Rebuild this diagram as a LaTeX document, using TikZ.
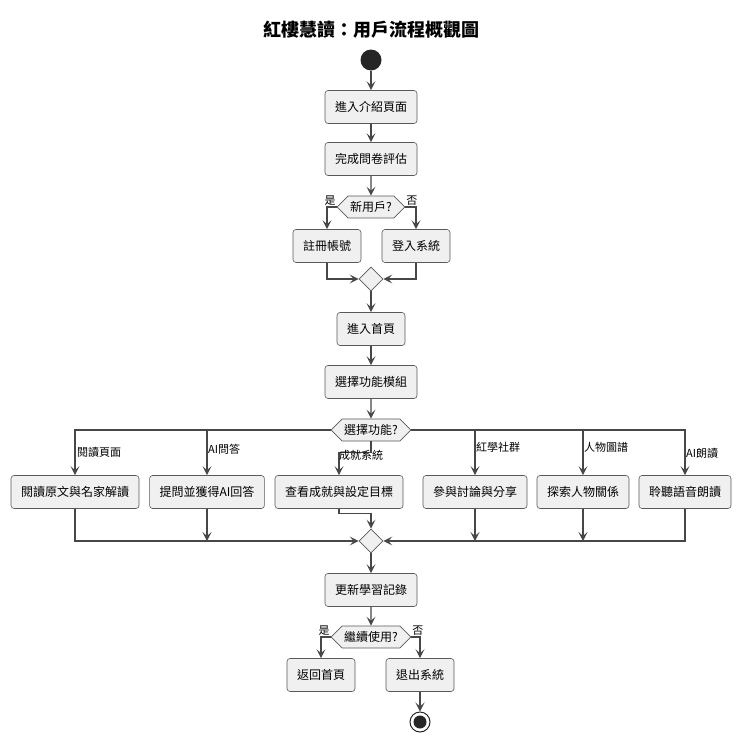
\documentclass[tikz,border=0pt]{standalone}
\usepackage{fontspec}
\setmainfont{Noto Sans CJK TC}
\usetikzlibrary{arrows.meta,shapes.geometric,shapes.symbols}

\begin{document}
\begin{tikzpicture}[x=1pt,y=-1pt,
    box/.style={draw=black!65, fill=black!6, rounded corners=3pt, line width=0.6pt,
        minimum height=33pt, inner xsep=10pt, font=\fontsize{12}{14}\selectfont},
    decide/.style={signal, signal to=west and east, draw=black!65, fill=black!6, line width=0.6pt,
        minimum height=22pt, inner xsep=2pt, inner ysep=0pt, font=\fontsize{12}{14}\selectfont},
    merge/.style={diamond, draw=black!65, fill=black!6, line width=0.6pt, minimum size=24pt, inner sep=0pt},
    lbl/.style={font=\fontsize{11}{13}\selectfont, inner sep=1pt},
    arr/.style={draw=black!72, line width=1.1pt, -{Stealth[length=9pt,width=9pt,inset=4pt]}}
]
    \useasboundingbox (0,0) rectangle (742,745);

    \node[font=\fontsize{18}{21}\selectfont\bfseries] (title) at (371,30) {紅樓慧讀：用戶流程概觀圖};

    \node[circle, fill=black!85, minimum size=21pt, inner sep=0pt] (start) at (371,60) {};
    \node[box] (intro) at (371,107) {進入介紹頁面};
    \node[box] (survey) at (371,159) {完成問卷評估};
    \node[decide] (newq) at (371,207) {新用戶?};
    \node[box] (reg) at (327,246) {註冊帳號};
    \node[box] (login) at (416,246) {登入系統};
    \node[merge] (m1) at (371,279) {};
    \node[box] (home) at (371,329) {進入首頁};
    \node[box] (select) at (371,382) {選擇功能模組};
    \node[decide] (funcq) at (371,430) {選擇功能?};

    % branches
    \node[box] (read) at (75,492) {閱讀原文與名家解讀};
    \node[box] (qa) at (207,492) {提問並獲得AI回答};
    \node[box] (goal) at (339,492) {查看成就與設定目標};
    \node[box] (social) at (475,492) {參與討論與分享};
    \node[box] (chars) at (583,492) {探索人物關係};
    \node[box] (listen) at (685,492) {聆聽語音朗讀};

    \node[merge] (m2) at (371,541) {};
    \node[box] (update) at (371,590) {更新學習記錄};
    \node[decide] (contq) at (371,637) {繼續使用?};
    \node[box] (back) at (321,675) {返回首頁};
    \node[box] (quit) at (420,675) {退出系統};
    \node[circle, draw=black!85, line width=1pt, minimum size=20pt, inner sep=0pt] (stop) at (420,722) {};
    \fill[black!85] (stop) circle (6.5pt);

    \draw[arr] (start) -- (intro);
    \draw[arr] (intro) -- (survey);
    \draw[arr] (survey) -- (newq);
    \draw[arr] (newq.west) -| (reg);
    \draw[arr] (newq.east) -| (login);
    \node[lbl, anchor=south east] (yes1) at (newq.west) {是};
    \node[lbl, anchor=south west] (no1) at (newq.east) {否};
    \draw[arr] (reg) |- (m1);
    \draw[arr] (login) |- (m1);
    \draw[arr] (m1) -- (home);
    \draw[arr] (home) -- (select);
    \draw[arr] (select) -- (funcq);

    \draw[arr] (funcq.west) -| (read);
    \draw[arr] (funcq.west -| qa) -- (qa);
    \draw[arr] (funcq.south) -- ++(0,11) -| (goal);
    \draw[arr] (funcq.east) -| (listen);
    \draw[arr] (funcq.east -| social) -- (social);
    \draw[arr] (funcq.east -| chars) -- (chars);
    \node[lbl, anchor=west] (lread) at (76,452) {閱讀頁面};
    \node[lbl, anchor=west] (lqa) at (207,449) {AI問答};
    \node[lbl, anchor=west] (lgoal) at (338,455) {成就系統};
    \node[lbl, anchor=west] (lsocial) at (475,447) {紅學社群};
    \node[lbl, anchor=west] (lchars) at (583,447) {人物圖譜};
    \node[lbl, anchor=west] (llisten) at (685,453) {AI朗讀};

    \draw[arr] (read) |- (m2);
    \draw[arr] (listen) |- (m2);
    \draw[arr] (qa) -- (qa |- m2);
    \draw[arr] (social) -- (social |- m2);
    \draw[arr] (chars) -- (chars |- m2);
    \draw[arr] (goal.south) -- ++(0,5) -| (m2);

    \draw[arr] (m2) -- (update);
    \draw[arr] (update) -- (contq);
    \draw[arr] (contq.west) -| (back);
    \draw[arr] (contq.east) -| (quit);
    \node[lbl, anchor=south east] (yes2) at (contq.west) {是};
    \node[lbl, anchor=south west] (no2) at (contq.east) {否};
    \draw[arr] (quit) -- (stop);
\end{tikzpicture}
\end{document}
